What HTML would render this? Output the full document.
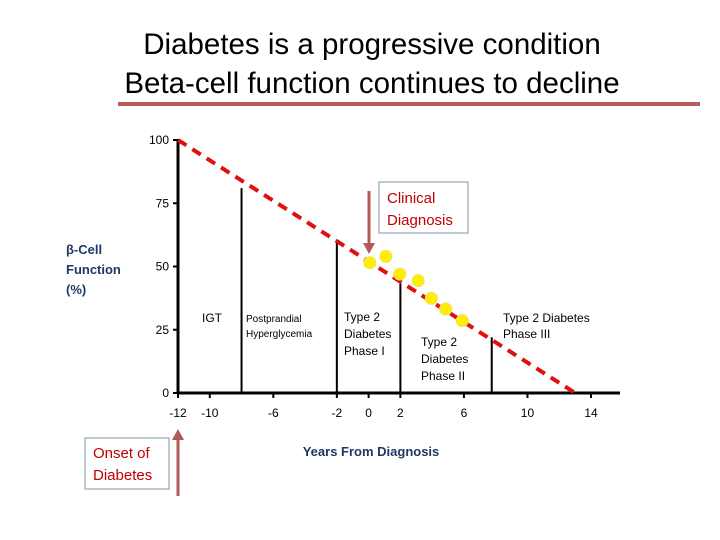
<!DOCTYPE html>
<html><head><meta charset="utf-8"><style>
body{margin:0;background:#fff;width:720px;height:540px;overflow:hidden}
svg{display:block;font-family:"Liberation Sans",sans-serif}
</style></head><body>
<svg id="chart" width="720" height="540">
<text x="372" y="54" font-size="29.5" text-anchor="middle">Diabetes is a progressive condition</text>
<text x="372" y="93" font-size="29.5" text-anchor="middle">Beta-cell function continues to decline</text>
<rect x="118" y="102" width="582" height="4" fill="#b85c5c"/>
<text x="66" y="254" font-size="13" font-weight="bold" fill="#1f3864"><tspan x="66">β-Cell</tspan><tspan x="66" dy="20">Function</tspan><tspan x="66" dy="20">(%)</tspan></text>
<g id="axes"></g>
<g id="marks"></g>
<rect x="379" y="182" width="89" height="51" fill="#fff" stroke="#7f9aa8" stroke-width="1"/>
<text x="387" y="203" font-size="15" fill="#c00000"><tspan x="387">Clinical</tspan><tspan x="387" dy="22">Diagnosis</tspan></text>
<rect x="85" y="438" width="84" height="51" fill="#fff" stroke="#7f9aa8" stroke-width="1"/>
<text x="93" y="458" font-size="15" fill="#c00000"><tspan x="93">Onset of</tspan><tspan x="93" dy="22">Diabetes</tspan></text>
<line x1="178" y1="496" x2="178" y2="438" stroke="#b05a5a" stroke-width="3"/>
<polygon points="172,440 184,440 178,429" fill="#b05a5a"/>
<line x1="369" y1="191" x2="369" y2="244" stroke="#b05a5a" stroke-width="3"/>
<polygon points="363,243 375,243 369,254" fill="#b05a5a"/>
<g font-size="12">
<text x="202" y="322">IGT</text>
<text x="246" y="322" font-size="10"><tspan x="246">Postprandial</tspan><tspan x="246" dy="15">Hyperglycemia</tspan></text>
<text x="344" y="321"><tspan x="344">Type 2</tspan><tspan x="344" dy="17">Diabetes</tspan><tspan x="344" dy="17">Phase I</tspan></text>
<text x="421" y="346"><tspan x="421">Type 2</tspan><tspan x="421" dy="17">Diabetes</tspan><tspan x="421" dy="17">Phase II</tspan></text>
<text x="503" y="322"><tspan x="503">Type 2 Diabetes</tspan><tspan x="503" dy="16">Phase III</tspan></text>
</g>
<text x="371" y="456" font-size="13" font-weight="bold" fill="#1f3864" text-anchor="middle">Years From Diagnosis</text>
</svg>
<script>
const xTicks=[-12,-10,-6,-2,0,2,6,10,14];
const yTicks=[0,25,50,75,100];
const lineX=[-12,13];
const lineY=[100,0];
const dividerX=[-8,-2,2,7.75];
const dividerTop=[81,60,43.5,22];
const dotX=[0.08,1.08,1.96,3.12,3.95,4.85,5.9];
const dotY=[51.5,54,47,44.4,37.4,33.2,28.6];
const X=v=>178+(v+12)*15.885;
const Y=v=>393-v*2.53;
const NS="http://www.w3.org/2000/svg";
function mk(t,a,p){const e=document.createElementNS(NS,t);for(const k in a)e.setAttribute(k,a[k]);p.appendChild(e);return e;}
const ax=document.getElementById('axes'),mg=document.getElementById('marks');
let e=mk('line',{x1:X(-12),y1:Y(0),x2:620,y2:Y(0),stroke:'#000','stroke-width':3},ax);


e=mk('line',{x1:X(-12),y1:Y(0),x2:X(-12),y2:Y(100)-1,stroke:'#000','stroke-width':3},ax);


xTicks.forEach(v=>{
 mk('line',{x1:X(v),y1:Y(0),x2:X(v),y2:Y(0)+5,stroke:'#000','stroke-width':2},ax);
 const t=mk('text',{x:X(v),y:Y(0)+24,'font-size':12,'text-anchor':'middle'},ax);t.textContent=v;
 
 
});
yTicks.forEach(v=>{
 mk('line',{x1:X(-12)-5,y1:Y(v),x2:X(-12),y2:Y(v),stroke:'#000','stroke-width':2},ax);
 const t=mk('text',{x:X(-12)-9,y:Y(v)+4,'font-size':12,'text-anchor':'end'},ax);t.textContent=v;
 
 
});
dividerX.forEach((v,i)=>{
 const l=mk('line',{x1:X(v),y1:Y(0),x2:X(v),y2:Y(dividerTop[i]),stroke:'#000','stroke-width':2},mg);
 
 
});
const dl=mk('line',{x1:X(lineX[0]),y1:Y(lineY[0]),x2:X(lineX[1]),y2:Y(lineY[1]),stroke:'#e01010','stroke-width':4,'stroke-dasharray':'10,7'},mg);


dotX.forEach((v,i)=>{
 const c=mk('circle',{cx:X(v),cy:Y(dotY[i]),r:6,fill:'#ffee00',stroke:'#f0e060','stroke-width':1},mg);
 
 
});
</script>
</body></html>
